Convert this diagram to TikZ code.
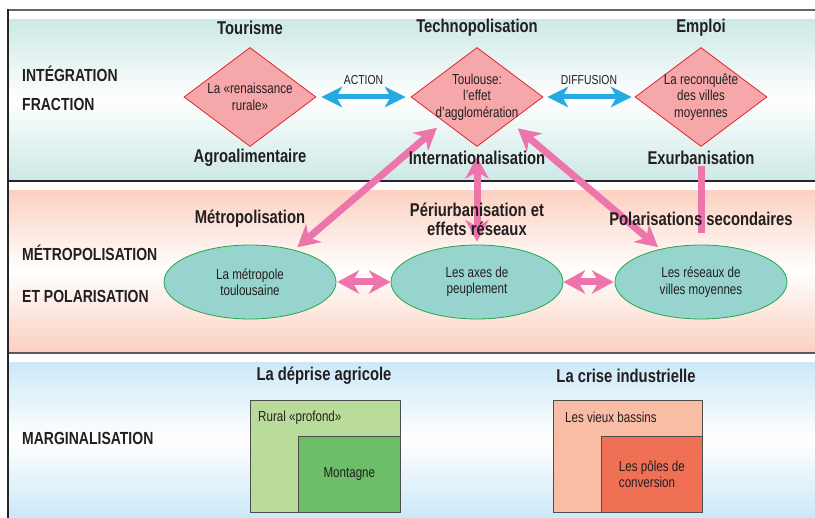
\documentclass[tikz,border=0pt]{standalone}
\usepackage{fontspec}
\setmainfont{Liberation Sans}[FakeStretch=0.8]
\usepackage{tikz}
\usetikzlibrary{shapes.geometric,positioning,arrows.meta}
\definecolor{tealband}{HTML}{CDE9E6}
\definecolor{pinkband}{HTML}{FCD1C1}
\definecolor{blueband}{HTML}{CDE9F8}
\definecolor{diamfill}{HTML}{F5A7AA}
\definecolor{diamline}{HTML}{E3262E}
\definecolor{ellfill}{HTML}{98D4CE}
\definecolor{ellline}{HTML}{26A549}
\definecolor{pinkarr}{HTML}{EE74AC}
\definecolor{bluearr}{HTML}{27A9E1}
\definecolor{ruralfill}{HTML}{B9DC9B}
\definecolor{montfill}{HTML}{6CBE67}
\definecolor{bassinfill}{HTML}{F9BDA5}
\definecolor{polefill}{HTML}{F07056}
\definecolor{boxline}{HTML}{4D4D4D}
\definecolor{txtcol}{HTML}{231F20}
\pgfdeclarelayer{bands}
\pgfdeclarelayer{arrows}
\pgfsetlayers{bands,arrows,main}

\begin{document}
\begin{tikzpicture}[x=1pt,y=-1pt,node distance=226pt,on grid,text=txtcol]
    \tikzset{head/.style={font=\fontsize{18.5}{19}\selectfont\bfseries,align=center,inner sep=1pt},
      side/.style={font=\fontsize{17.5}{19}\selectfont\bfseries,anchor=west,inner sep=0pt},
      small/.style={font=\fontsize{14.5}{16.5}\selectfont,align=center},
      lab/.style={font=\fontsize{13}{14}\selectfont,inner sep=1pt},
      diam/.style={diamond,draw=diamline,fill=diamfill,line width=0.8pt,small,
        aspect=1.333,inner sep=-8pt,minimum width=132pt,minimum height=99pt},
      ell/.style={ellipse,draw=ellline,fill=ellfill,line width=0.8pt,small,
        minimum width=172pt,minimum height=74pt},
      box/.style={rectangle,draw=boxline,line width=0.7pt,small,inner sep=0pt},
      pinktip/.tip={Stealth[length=22pt,width=24pt,inset=7pt,fill=pinkarr,line width=0pt]},
      bluetip/.tip={Stealth[length=21pt,width=21pt,inset=6pt,fill=bluearr,line width=0pt]},
      pinkarrow/.style={draw=pinkarr,line width=7pt,pinktip-pinktip},
      bluearrow/.style={draw=bluearr,line width=5pt,bluetip-bluetip}}
    \useasboundingbox (0,0) rectangle (815,518);
    % bands
    \begin{pgfonlayer}{bands}
      \foreach \i in {0,...,39}{
        \pgfmathsetmacro{\p}{abs(\i-19.5)/19.5*100}
        \fill[tealband!\p!white] (9,{19+\i*4.05}) rectangle (815,{19+\i*4.05+4.3});
        \fill[pinkband!\p!white] (9,{190+\i*4.05}) rectangle (815,{190+\i*4.05+4.3});
        \fill[blueband!\p!white] (9,{362+\i*3.9}) rectangle (815,{362+\i*3.9+4.2});
      }
      \fill[white] (9,181) rectangle (815,190);
      \fill[white] (9,353) rectangle (815,362);
      \draw[line width=2pt,draw=black!60] (8,10) -- (815,10);
      \draw[line width=1.8pt,draw=black!85] (8,181) -- (815,181);
      \draw[line width=1.8pt,draw=black!65] (8,353) -- (815,353);
      \draw[line width=1.5pt,draw=black!85] (8,9) -- (8,518);
    \end{pgfonlayer}

    % level 1
    \node[diam] (toulouse) at (477,97) {Toulouse:\\l'effet\\d'agglomération};
    \node[diam] (rural) [left = 227pt of toulouse] {La «renaissance\\rurale»};
    \node[diam] (reconq) [right = 224pt of toulouse] {La reconquête\\des villes\\moyennes};
    \node[head] (tourisme) [above = 69pt of rural] {Tourisme};
    \node[head] (techno) [above = 69pt of toulouse] {Technopolisation};
    \node[head] (emploi) [above = 69pt of reconq] {Emploi};
    \node[head] (agro) [below = 61pt of rural] {Agroalimentaire};
    \node[head] (inter) [below = 61pt of toulouse] {Internationalisation};
    \node[head] (exurb) [below = 61pt of reconq] {Exurbanisation};

    % level 2
    \node[ell] (metro) [below = 185pt of rural] {La métropole\\toulousaine};
    \node[ell] (axes) [below = 185pt of toulouse] {Les axes de\\peuplement};
    \node[ell] (villes) [below = 185pt of reconq] {Les réseaux de\\villes moyennes};
    \node[head] (metropol) [above = 63pt of metro] {Métropolisation};
    \node[head] (periurb) [above = 63pt of axes] {Périurbanisation et\\effets réseaux};
    \node[head] (polar) [above = 63pt of villes] {Polarisations secondaires};
    \coordinate (polend) at (701,233);

    % level 3
    \node[head] (deprise) at (324,376) {La déprise agricole};
    \node[box,fill=ruralfill,minimum width=150pt,minimum height=112pt,anchor=north west] (profond) at (250,400) {};
    \node[box,fill=montfill,minimum width=102pt,minimum height=76pt,anchor=south east] (montagne) at (profond.south east) {Montagne};
    \node[small,anchor=west,inner sep=0pt] (profondtxt) at ([xshift=8pt,yshift=-18pt]profond.north west) {Rural «profond»};
    \node[head] (crise) at (626,376) {La crise industrielle};
    \node[box,fill=bassinfill,minimum width=149pt,minimum height=112pt,anchor=north west] (bassins) at (553,400) {};
    \node[box,fill=polefill,minimum width=101pt,minimum height=76pt,anchor=south east,align=left] (poles) at (bassins.south east) {Les pôles de\\conversion};
    \node[small,anchor=west,inner sep=0pt] (bassinstxt) at ([xshift=12pt,yshift=-17pt]bassins.north west) {Les vieux bassins};

    % side labels
    \node[side] (integ) at (22,74) {INTÉGRATION};
    \node[side] (fraction) at (22,104) {FRACTION};
    \node[side] (metropole) at (22,253) {MÉTROPOLISATION};
    \node[side] (polaris) at (22,296) {ET POLARISATION};
    \node[side] (margin) at (22,438) {MARGINALISATION};

    \begin{pgfonlayer}{arrows}
    \draw[bluearrow,shorten <=5pt,shorten >=5pt] (rural) -- node[lab,above=9pt] (action) {ACTION} (toulouse);
    \draw[bluearrow,shorten <=4pt,shorten >=3pt] (toulouse) -- node[lab,above=9pt] (diffusion) {DIFFUSION} (reconq);
    \draw[pinkarrow,shorten <=1pt] (metro) -- (axes);
    \draw[pinkarrow,shorten >=1pt] (axes) -- (villes);
    \draw[pinkarrow,shorten <=9pt,shorten >=4pt] (toulouse.south west) -- (metro.36);
    \draw[pinkarrow,shorten <=10pt,shorten >=3pt] (toulouse.south) -- (axes.north);
    \draw[pinkarrow,shorten <=10pt,shorten >=3pt] (toulouse.south east) -- (villes.141);
    \draw[draw=pinkarr,line width=7pt] (exurb.south) -- (polend);
    \end{pgfonlayer}
\end{tikzpicture}
\end{document}
